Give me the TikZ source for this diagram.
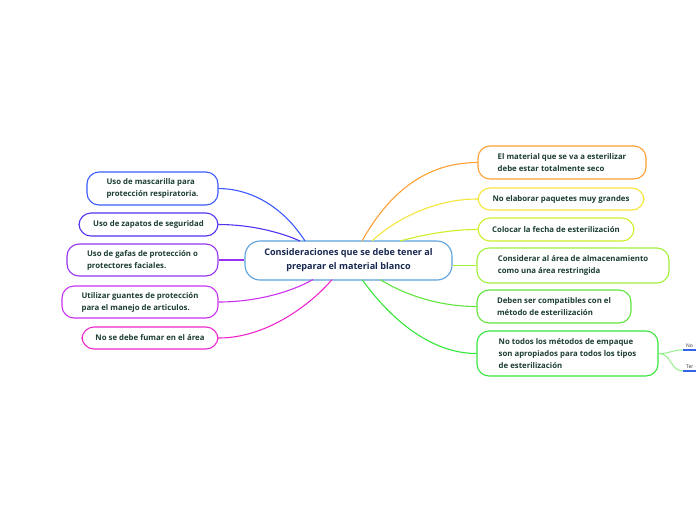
\documentclass[tikz,border=0pt]{standalone}
\usepackage{fontspec}
\setmainfont{Open Sans}
\usetikzlibrary{calc}
\definecolor{txt}{RGB}{28,62,52}
\definecolor{ctxt}{RGB}{24,40,80}
\definecolor{cb}{RGB}{90,160,220}
\definecolor{l1}{RGB}{60,90,255}
\definecolor{l2}{RGB}{85,50,240}
\definecolor{l3}{RGB}{150,50,240}
\definecolor{l4}{RGB}{205,50,240}
\definecolor{l5}{RGB}{240,40,205}
\definecolor{r1}{RGB}{255,160,50}
\definecolor{r2}{RGB}{245,230,60}
\definecolor{r3}{RGB}{205,240,40}
\definecolor{r4}{RGB}{160,240,60}
\definecolor{r5}{RGB}{95,230,60}
\definecolor{r6}{RGB}{55,230,60}
\definecolor{sub}{RGB}{150,240,140}
\definecolor{ul}{RGB}{50,100,230}
\tikzset{
  topic/.style={draw, line width=1.1pt, rounded corners=12pt, fill=white,
    inner sep=0pt, align=left, text=txt,
    font=\fontsize{7.8}{12}\selectfont\bfseries},
  central/.style={draw=cb, line width=1.1pt, rounded corners=15pt, fill=white,
    inner sep=0pt, align=center, text=ctxt,
    font=\fontsize{9.1}{14}\selectfont\bfseries},
  conn/.style={line width=1.1pt},
  small/.style={font=\fontsize{5}{6}\selectfont, text=black!80, inner sep=1pt, anchor=south west}
}
\begin{document}
\begin{tikzpicture}[x=1pt,y=-1pt]
\useasboundingbox[fill=white] (0,0) rectangle (696,520);

% central
\node[central, minimum width=207pt, minimum height=39pt] (c) at (348.5,260.5)
  {Consideraciones que se debe tener al\\preparar el material blanco};

% left topics
\node[topic, draw=l1, minimum width=131pt, minimum height=33pt] (L1) at (152.5,188.5)
  {Uso de mascarilla para\\protección respiratoria.};
\node[topic, draw=l2, minimum width=139pt, minimum height=23pt] (L2) at (148.5,224.5)
  {Uso de zapatos de seguridad};
\node[topic, draw=l3, minimum width=151pt, minimum height=32pt] (L3) at (142.5,260)
  {Uso de gafas de protección o\\protectores faciales.};
\node[topic, draw=l4, minimum width=156pt, minimum height=32pt] (L4) at (140,302)
  {Utilizar guantes de protección\\para el manejo de articulos.};
\node[topic, draw=l5, minimum width=136pt, minimum height=22pt] (L5) at (150,338)
  {No se debe fumar en el área};

% right topics
\node[topic, draw=r1, minimum width=168pt, minimum height=33pt] (R1) at (562,162.5)
  {El material que se va a esterilizar\\debe estar totalmente seco};
\node[topic, draw=r2, minimum width=166pt, minimum height=22pt] (R2) at (561,199)
  {No elaborar paquetes muy grandes};
\node[topic, draw=r3, minimum width=156pt, minimum height=23pt] (R3) at (556,229.5)
  {Colocar la fecha de esterilización};
\node[topic, draw=r4, minimum width=192pt, minimum height=35pt] (R4) at (573,265.5)
  {Considerar al área de almacenamiento\\como una área restringida};
\node[topic, draw=r5, minimum width=154pt, minimum height=33pt] (R5) at (554,306.5)
  {Deben ser compatibles con el\\método de esterilización};
\node[topic, draw=r6, minimum width=181pt, minimum height=45pt] (R6) at (567.5,353.5)
  {No todos los métodos de empaque\\son apropiados para todos los tipos\\de esterilización};

% attach points on central box
\coordinate (cL1) at (305,241);
\coordinate (cL2) at (300,241);
\coordinate (cL4) at (313,279.5);
\coordinate (cL5) at (332,279.5);
\coordinate (cR1) at (362,241);
\coordinate (cR2) at (372,241);
\coordinate (cR3) at (400,241);
\coordinate (cR5) at (380,279.5);
\coordinate (cR6) at (362,279.5);

% left connectors
\draw[conn, l1] (cL1) .. controls (285,210) and (255,189) .. (L1.east);
\draw[conn, l2] (cL2) .. controls (280,232) and (250,224.5) .. (L2.east);
\draw[conn, l3] (c.west |- L3.east) -- (L3.east);
\draw[conn, l4] (cL4) .. controls (295,290) and (260,302) .. (L4.east);
\draw[conn, l5] (cL5) .. controls (315,300) and (270,338) .. (L5.east);

% right connectors
\draw[conn, r1] (cR1) .. controls (385,200) and (420,162.5) .. (R1.west);
\draw[conn, r2] (cR2) .. controls (400,215) and (440,199) .. (R2.west);
\draw[conn, r3] (cR3) .. controls (430,233) and (455,229.5) .. (R3.west);
\draw[conn, r4] (c.east |- R4.west) -- (R4.west);
\draw[conn, r5] (cR5) .. controls (410,298) and (445,306.5) .. (R5.west);
\draw[conn, r6] (cR6) .. controls (395,325) and (435,353.5) .. (R6.west);

% sub-branches
\coordinate (s1) at (683,350);
\coordinate (s2) at (683,371);
\draw[line width=1pt, sub] (R6.east) .. controls (672,353.5) and (670,350) .. (s1);
\draw[line width=1pt, sub] (R6.east) .. controls (672,353.5) and (670,371) .. (s2);
\draw[line width=1.6pt, ul] (s1) -- ++(14,0);
\draw[line width=1.6pt, ul] (s2) -- ++(14,0);
\node[small] (n1) at ($(s1)+(2,-1)$) {No};
\node[small] (n2) at ($(s2)+(2,-1)$) {Ter};
\end{tikzpicture}
\end{document}
